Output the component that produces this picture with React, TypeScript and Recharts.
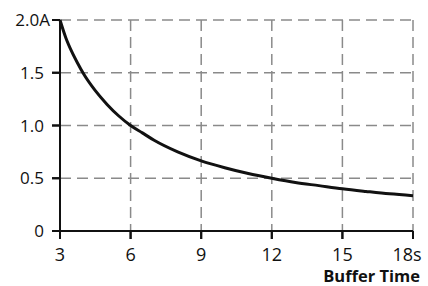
import { LineChart, Line, XAxis, YAxis, CartesianGrid } from 'recharts';

// ── Data ──────────────────────────────────────────────────────────────────────
const bufferTime = [3, 3.25, 3.5, 3.75, 4, 4.5, 5, 5.5, 6, 6.5, 7, 8, 9, 10, 11, 12, 13, 14, 15, 16, 17, 18];
const current = [2.0, 1.83, 1.7, 1.59, 1.49, 1.33, 1.2, 1.09, 1.0, 0.93, 0.86, 0.75, 0.665, 0.6, 0.545, 0.5, 0.46, 0.43, 0.4, 0.375, 0.352, 0.335];
const xTicks = [3, 6, 9, 12, 15, 18];
const yTicks = [0, 0.5, 1, 1.5, 2];
const yTickLabels = ['0', '0.5', '1.0', '1.5', '2.0A'];

const rows = bufferTime.map((t, i) => ({ t, a: current[i] }));

const FONT = '"Open Sans", "DejaVu Sans", sans-serif';
const INK = '#111';
const TICK = 8;
const GAP = 2;

// tick marks drawn with the label (x, y = label anchor, axis is TICK + GAP away)
function XTick({ x, y, payload }: any) {
    const last = payload.value === 18;
    return (
        <g>
            <line x1={x} x2={x} y1={y - TICK - GAP} y2={y - GAP} stroke={INK} strokeWidth={2} />
            <text
                x={last ? x - 6 : x}
                y={y}
                dy={20}
                textAnchor="middle"
                fontFamily={FONT}
                fontSize={18}
                fill={INK}
            >
                {last ? '18s' : String(payload.value)}
            </text>
        </g>
    );
}

function YTick({ x, y, payload }: any) {
    const idx = yTicks.indexOf(payload.value);
    const top = payload.value === 2;
    return (
        <g>
            <line x1={x + GAP} x2={x + GAP + TICK} y1={y} y2={y} stroke={INK} strokeWidth={2} />
            <text
                x={top ? x : x - 6}
                y={y}
                dy={6}
                textAnchor="end"
                fontFamily={FONT}
                fontSize={17}
                fill={INK}
            >
                {yTickLabels[idx]}
            </text>
        </g>
    );
}

function AxisTitle({ viewBox }: any) {
    return (
        <text
            x={viewBox.x + viewBox.width + 7}
            y={viewBox.y + 51}
            textAnchor="end"
            fontFamily={FONT}
            fontSize={16.5}
            fontWeight={700}
            fill={INK}
        >
            Buffer Time
        </text>
    );
}

export default function App() {
    return (
        <div style={{ position: 'absolute', left: 0, top: 0, width: 428, height: 286, background: '#fff' }}>
            <LineChart width={428} height={286} data={rows} margin={{ top: 20, right: 15, bottom: 0, left: 0 }}>
                <CartesianGrid
                    stroke="#8a8a8a"
                    strokeWidth={1.5}
                    strokeDasharray="11 6"
                    horizontalValues={yTicks}
                    verticalValues={xTicks}
                />
                <XAxis
                    dataKey="t"
                    type="number"
                    domain={[3, 18]}
                    ticks={xTicks}
                    height={55}
                    tickSize={TICK}
                    tickMargin={GAP}
                    axisLine={{ stroke: INK, strokeWidth: 2 }}
                    tickLine={{ stroke: INK, strokeWidth: 2 }}
                    tick={<XTick />}
                    label={<AxisTitle />}
                />
                <YAxis
                    type="number"
                    domain={[0, 2]}
                    ticks={yTicks}
                    width={60}
                    tickSize={TICK}
                    tickMargin={GAP}
                    axisLine={{ stroke: INK, strokeWidth: 2 }}
                    tickLine={{ stroke: INK, strokeWidth: 2 }}
                    tick={<YTick />}
                />
                <Line
                    type="monotone"
                    dataKey="a"
                    stroke={INK}
                    strokeWidth={3}
                    dot={false}
                    isAnimationActive={false}
                />
            </LineChart>
        </div>
    );
}
